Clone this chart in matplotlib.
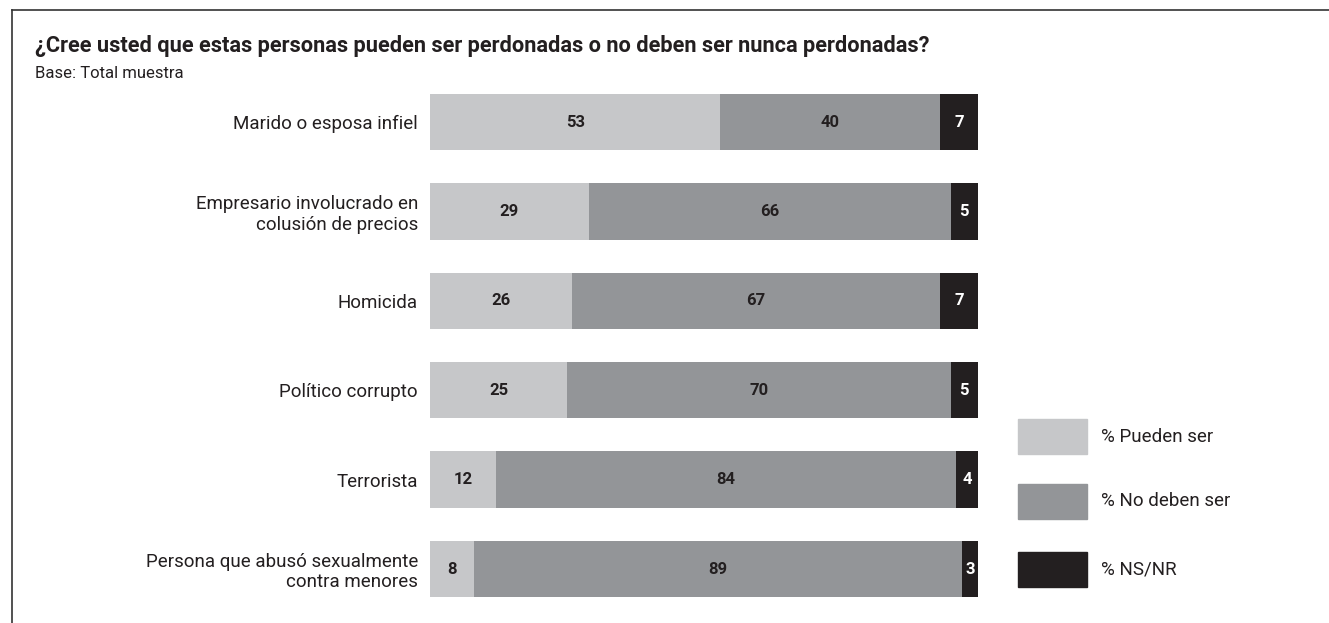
import matplotlib.pyplot as plt
from matplotlib.lines import Line2D
from matplotlib.patches import Rectangle
import numpy as np

categories = [
    "Marido o esposa infiel",
    "Empresario involucrado en\ncolusión de precios",
    "Homicida",
    "Político corrupto",
    "Terrorista",
    "Persona que abusó sexualmente\ncontra menores",
]
pueden_ser = [53, 29, 26, 25, 12, 8]
no_deben_ser = [40, 66, 67, 70, 84, 89]
ns_nr = [7, 5, 7, 5, 4, 3]

series_names = ["% Pueden ser", "% No deben ser", "% NS/NR"]
colors = ["#c6c7c9", "#939598", "#231f20"]
text_colors = ["#231f20", "#231f20", "#ffffff"]

plt.rcParams["font.family"] = ["Roboto", "DejaVu Sans"]

W, H = 1329, 623
fig = plt.figure(figsize=(W / 100, H / 100), dpi=100)

# frame lines (top and left)
fig.add_artist(Line2D([12 / W, 1], [1 - 10 / H, 1 - 10 / H], color="#333333", lw=1.2))
fig.add_artist(Line2D([12 / W, 12 / W], [0, 1 - 10 / H], color="#333333", lw=1.2))

fig.text(35 / W, 1 - 52 / H, "¿Cree usted que estas personas pueden ser perdonadas o no deben ser nunca perdonadas?",
         fontsize=15.7, fontweight="bold", color="#231f20", va="baseline")
fig.text(35 / W, 1 - 78 / H, "Base: Total muestra", fontsize=12, color="#231f20", va="baseline")

ax = fig.add_axes([430 / W, 1 - 613.7 / H, 548 / W, 536.4 / H])
y = np.arange(len(categories))
series = [pueden_ser, no_deben_ser, ns_nr]
left = np.zeros(len(categories))
for vals, c, tc in zip(series, colors, text_colors):
    vals = np.array(vals, dtype=float)
    ax.barh(y, vals, left=left, height=0.63, color=c, edgecolor="none")
    for yi, l, v in zip(y, left, vals):
        ax.text(l + v / 2, yi, f"{int(v)}", ha="center", va="center",
                fontsize=12, fontweight="bold", color=tc)
    left += vals

ax.set_xlim(0, 100)
ax.set_ylim(len(categories) - 0.5, -0.5)
ax.set_yticks(y)
ax.set_yticklabels(categories, fontsize=13.5, color="#231f20", linespacing=1.15)
ax.tick_params(axis="y", length=0, pad=8.6)
ax.set_xticks([])
for s in ax.spines.values():
    s.set_visible(False)

# legend
legend_tops = [419, 484, 552]
for name, c, top in zip(series_names, colors, legend_tops):
    fig.add_artist(Rectangle((1018 / W, 1 - (top + 35) / H), 69 / W, 35 / H,
                             color=c, transform=fig.transFigure))
    fig.text(1101 / W, 1 - (top + 17.5) / H, name, fontsize=13.5, color="#231f20", va="center")

fig.savefig("out.png", dpi=100)
